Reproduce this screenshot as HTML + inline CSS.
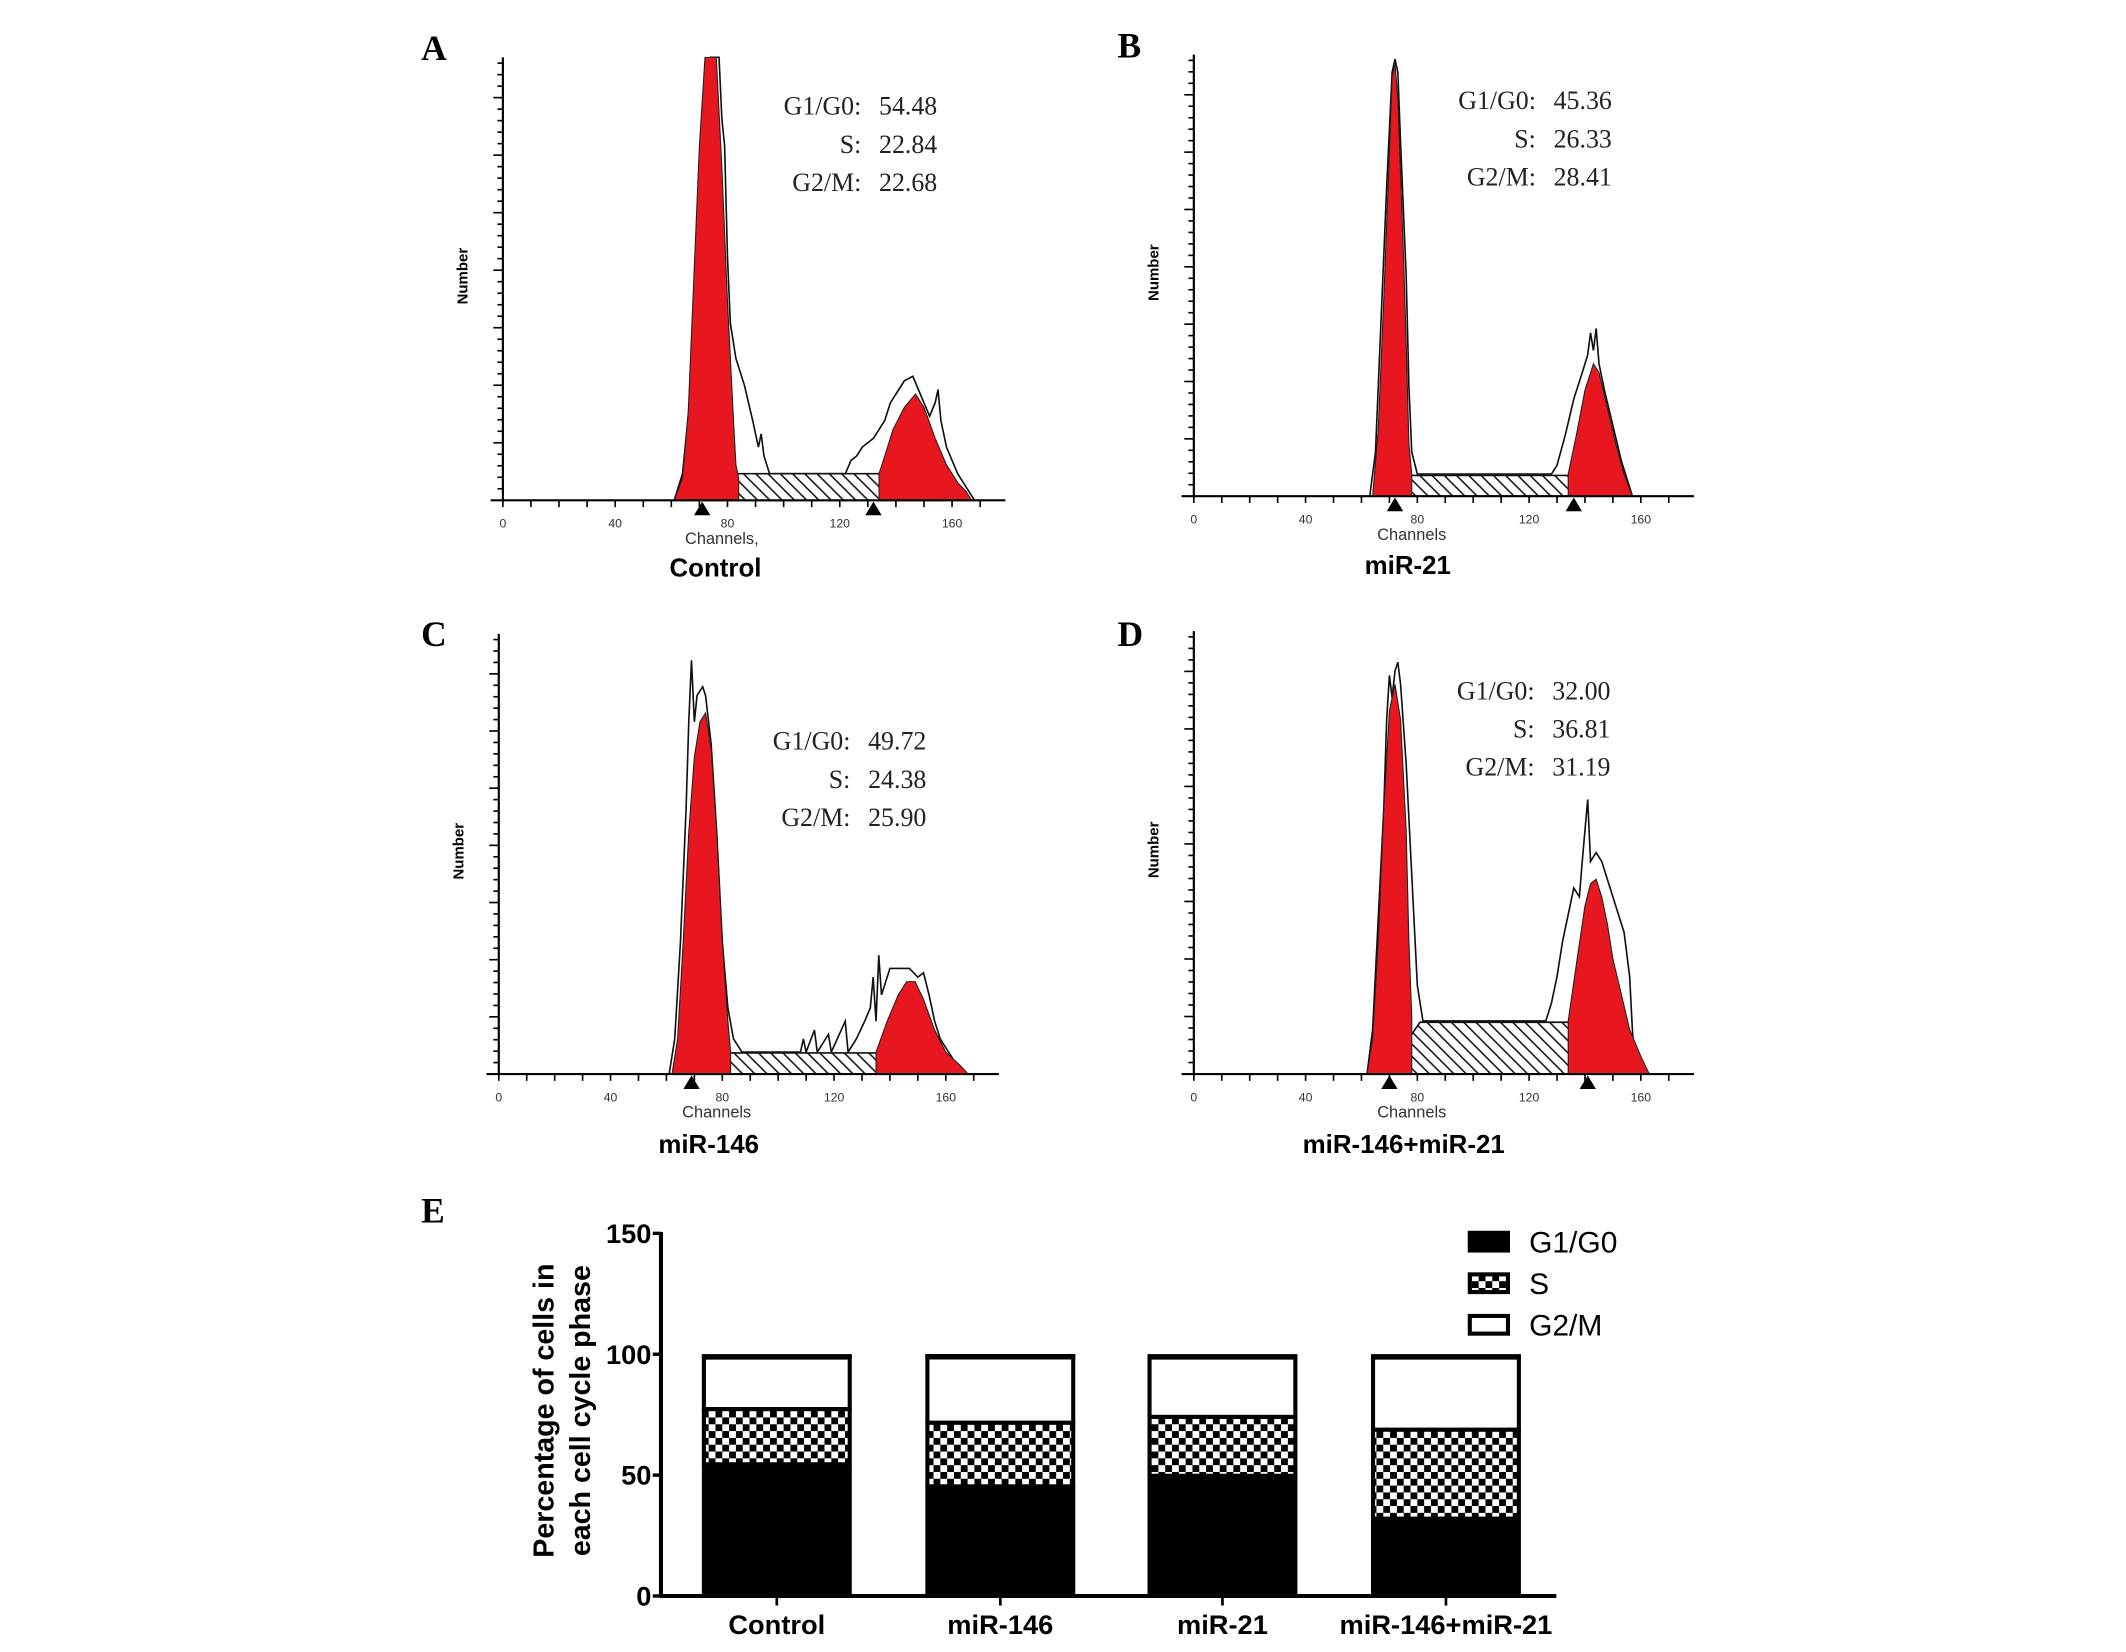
<!DOCTYPE html>
<html><head><meta charset="utf-8"><title>Cell cycle analysis</title>
<style>
html,body{margin:0;padding:0;background:#fff;}
svg{display:block;}
.lbl{font-family:"Liberation Serif",serif;font-weight:bold;font-size:26px;}
.stat{font-family:"Liberation Serif",serif;font-size:19px;fill:#222;}
.tick{font-family:"Liberation Sans",sans-serif;font-size:9px;fill:#333;}
.chan{font-family:"Liberation Sans",sans-serif;font-size:12px;fill:#333;}
.ttl{font-family:"Liberation Sans",sans-serif;font-weight:bold;font-size:19px;}
.num{font-family:"Liberation Sans",sans-serif;font-weight:bold;font-size:11px;}
.bar-t{font-family:"Liberation Sans Narrow","Liberation Sans",sans-serif;font-weight:bold;font-size:20px;}
.bar-y{font-family:"Liberation Sans",sans-serif;font-weight:bold;font-size:21px;}
.leg{font-family:"Liberation Sans Narrow","Liberation Sans",sans-serif;font-size:22px;}
</style></head>
<body>
<svg id="fig" width="2126" height="1652" viewBox="0 0 1560 1212" xmlns="http://www.w3.org/2000/svg">
<defs>
<pattern id="hatch" patternUnits="userSpaceOnUse" width="9" height="9">
<rect width="9" height="9" fill="#fff"/>
<path d="M-1,-1 L10,10 M-1,8 L1,10 M8,-1 L10,1" stroke="#111" stroke-width="1.1"/>
</pattern>
<pattern id="checker" patternUnits="userSpaceOnUse" width="10" height="10">
<rect width="10" height="10" fill="#fff"/>
<rect x="0" y="0" width="5" height="5" fill="#000"/>
<rect x="5" y="5" width="5" height="5" fill="#000"/>
</pattern>
</defs>
</svg>
<script>
// ---- Histogram data: [channel, height % of axis] ----
const aOutline=[[61,0],[64,6],[67,25],[69,60],[71,88],[72,92],[74,100],[77,100],[78,86],[79,80],[80,55],[81,40],[83,32],[86,26],[89,18],[91,12],[92,15],[93,10],[95,6],[122,6],[124,9],[126,10],[128,12],[132,14],[136,18],[138,22],[141,25],[143,27],[146,28],[148,25],[150,22],[152,19],[154,22],[155,25],[156,18],[158,12],[162,6],[165,3],[168,0]];
const aG1Red=[[61,0],[64,5],[66,20],[68,50],[70,80],[72,100],[76,100],[78,75],[80,45],[82,20],[83,8],[84,5],[84,0]];
const aG2Red=[[134,0],[134,6],[136,10],[139,16],[143,21],[147,24],[150,21],[154,14],[158,8],[162,4],[165,2],[167,0]];
const aBand=[[72,0],[75,3],[78,6],[140,6],[143,4],[147,3],[150,2],[155,0]];
const aMarkers=[71,132];
const aStats=["54.48","22.84","22.68"];

const bOutline=[[63,0],[65,10],[67,40],[69,70],[71,96],[72,99],[73,96],[74,80],[76,50],[77,25],[78,10],[80,5],[128,5],[130,7],[133,14],[136,22],[139,28],[141,32],[142,37],[143,33],[144,38],[145,30],[147,24],[150,16],[153,8],[156,2],[157,0]];
const bG1Red=[[64,0],[66,15],[68,45],[70,78],[71,95],[72,98],[73,90],[75,55],[76,35],[77,12],[78,5],[78,0]];
const bG2Red=[[134,0],[134,5],[137,14],[140,24],[143,30],[145,28],[148,20],[151,12],[154,5],[157,0]];
const bBand=[[69,0],[72,3],[74,4.7],[140,4.7],[143,3],[147,1.5],[149,0]];
const bMarkers=[72,136];
const bStats=["45.36","26.33","28.41"];

const cOutline=[[61,0],[63,8],[65,30],[67,60],[68,80],[69,94],[70,80],[71,86],[73,88],[74,86],[76,75],[78,55],[80,30],[82,15],[84,8],[87,5],[108,5],[109,8],[110,5],[113,10],[114,5],[118,9],[119,5],[124,12],[125,5],[128,8],[131,12],[133,15],[134,22],[135,12],[136,27],[137,18],[138,20],[140,24],[143,24],[147,24],[150,22],[152,23],[154,18],[156,12],[158,8],[161,5],[164,2],[166,0]];
const cG1Red=[[62,0],[64,8],[66,30],[68,55],[70,72],[72,80],[74,82],[76,74],[78,55],[80,30],[82,12],[83,5],[83,0]];
const cG2Red=[[135,0],[135,5],[139,12],[143,18],[146,21],[149,21],[152,17],[156,10],[160,5],[165,2],[168,0]];
const cBand=[[70,0],[73,3],[76,4.8],[136,4.8],[140,3.5],[145,2],[152,1],[157,0]];
const cMarkers=[69];
const cStats=["49.72","24.38","25.90"];

const dOutline=[[62,0],[64,10],[66,35],[68,60],[69,80],[70,90],[71,85],[72,91],[73,93],[74,88],[76,70],[78,45],[80,20],[82,12],[126,12],[128,16],[130,22],[132,30],[134,36],[136,42],[138,40],[139,48],[140,55],[141,62],[142,48],[144,50],[146,48],[148,44],[150,40],[152,36],[154,32],[156,22],[157,10],[158,0]];
const dG1Red=[[62,0],[64,8],[66,30],[68,60],[70,82],[72,88],[74,80],[76,55],[77,30],[78,13],[78,0]];
const dG2Red=[[134,0],[134,12],[137,25],[140,38],[142,43],[144,44],[146,40],[148,34],[150,26],[153,18],[156,10],[160,4],[163,0]];
const dBand=[[72,0],[75,4],[78,9],[81,11.7],[134,11.7],[138,9],[142,7],[146,4],[150,2],[154,0]];
const dMarkers=[70,141];
const dStats=["32.00","36.81","31.19"];

const statLabels=["G1/G0:","S:","G2/M:"];
const xTickLabels=["0","40","80","120","160"];

// ---- Bar chart data ----
const barCategories=["Control","miR-146","miR-21","miR-146+miR-21"];
const barG1=[54.48,45.36,49.72,32.00];
const barS=[22.84,26.33,24.38,36.81];
const barG2=[22.68,28.41,25.90,31.19];
const barYTicks=[0,50,100,150];
const legendLabels=["G1/G0","S","G2/M"];

const NS="http://www.w3.org/2000/svg";
const svg=document.getElementById('fig');
function mk(tag,attrs,parent){const e=document.createElementNS(NS,tag);for(const k in attrs)e.setAttribute(k,attrs[k]);(parent||svg).appendChild(e);return e;}
function txt(s,attrs,parent){const e=mk('text',attrs,parent);e.textContent=s;return e;}

const panels=[
 {id:'a',letter:'A',lx:309,ly:44,x0:369,bot:367,top:42,k:2.06,title:'Control',tx:525,ty:423,statX:632,statY:78,
  outline:aOutline,g1:aG1Red,g2:aG2Red,band:aBand,markers:aMarkers,stats:aStats,chan:'Channels,'},
 {id:'b',letter:'B',lx:820,ly:42,x0:876,bot:364,top:40,k:2.05,title:'miR-21',tx:1033,ty:421,statX:1127,statY:74,
  outline:bOutline,g1:bG1Red,g2:bG2Red,band:bBand,markers:bMarkers,stats:bStats,chan:'Channels'},
 {id:'c',letter:'C',lx:309,ly:474,x0:366,bot:788,top:465,k:2.05,title:'miR-146',tx:520,ty:846,statX:624,statY:544,
  outline:cOutline,g1:cG1Red,g2:cG2Red,band:cBand,markers:cMarkers,stats:cStats,chan:'Channels'},
 {id:'d',letter:'D',lx:820,ly:474,x0:876,bot:788,top:463,k:2.05,title:'miR-146+miR-21',tx:1030,ty:846,statX:1126,statY:507,
  outline:dOutline,g1:dG1Red,g2:dG2Red,band:dBand,markers:dMarkers,stats:dStats,chan:'Channels'}
];

panels.forEach(p=>{
  const g=mk('g',{});
  
  
  const H=p.bot-p.top;
  const X=c=>p.x0+c*p.k;
  const Y=v=>p.bot-v/100*H;
  const pts=arr=>arr.map(q=>X(q[0]).toFixed(1)+','+Y(q[1]).toFixed(1)).join(' ');
  const L=txt(p.letter,{x:p.lx,y:p.ly,class:'lbl'},g);
  
  
  // outline
  const o=mk('polygon',{points:pts(p.outline),fill:'#fff',stroke:'#111','stroke-width':1.2},g);
  
  
  // S band
  const b=mk('polygon',{points:pts(p.band),fill:'url(#hatch)',stroke:'#111','stroke-width':1.2},g);
  
  
  // red peaks
  const r1=mk('polygon',{points:pts(p.g1),fill:'#e8171f',stroke:'#222','stroke-width':0.8},g);
  
  
  const r2=mk('polygon',{points:pts(p.g2),fill:'#e8171f',stroke:'#222','stroke-width':0.8},g);
  
  
  // axes
  const ya=mk('line',{x1:p.x0,y1:p.top,x2:p.x0,y2:p.bot,stroke:'#000','stroke-width':1.6},g);
  
  
  const xa=mk('line',{x1:p.x0-9,y1:p.bot,x2:X(179),y2:p.bot,stroke:'#000','stroke-width':1.6},g);
  
  
  for(let i=1;i<=38;i++){
    const yy=p.bot-i*H/38.5;const len=(i%5===0)?7:4;
    mk('line',{x1:p.x0-len,y1:yy,x2:p.x0,y2:yy,stroke:'#000','stroke-width':1.2},g);
  }
  for(let c=0;c<=175;c+=10){
    mk('line',{x1:X(c),y1:p.bot,x2:X(c),y2:p.bot+5,stroke:'#000','stroke-width':1.2},g);
  }
  xTickLabels.forEach((t,i)=>{
    const tl=txt(t,{x:X(i*40),y:p.bot+20,class:'tick','text-anchor':'middle'},g);
    
    
  });
  p.markers.forEach(m=>{
    const tr=mk('polygon',{points:(X(m)-6)+','+(p.bot+11)+' '+(X(m)+6)+','+(p.bot+11)+' '+X(m)+','+(p.bot+1),fill:'#000'},g);
    
    
  });
  const ch=txt(p.chan,{x:X(78),y:p.bot+32,class:'chan','text-anchor':'middle'},g);
  
  
  const nm=txt('Number',{x:0,y:0,class:'num','text-anchor':'middle',transform:'translate('+(p.x0-26)+','+((p.top+p.bot)/2-2)+') rotate(-90)'},g);
  
  
  const tt=txt(p.title,{x:p.tx,y:p.ty,class:'ttl','text-anchor':'middle'},g);
  
  
  statLabels.forEach((s,i)=>{
    const sl=txt(s,{x:p.statX,y:p.statY+i*28+6,class:'stat','text-anchor':'end'},g);
    
    
    const sv=txt(p.stats[i],{x:p.statX+13,y:p.statY+i*28+6,class:'stat'},g);
    
    
  });
});

// ---- Panel E bar chart ----
(function(){
  const g=mk('g',{});
  
  
  const x0=485,yb=1171,ppu=1.774;
  const Y=v=>yb-v*ppu;
  const centers=[570,734,897,1061];
  const bw=110;
  const E=txt('E',{x:309,y:897,class:'lbl'},g);
  
  
  barCategories.forEach((c,i)=>{
    const l=centers[i]-bw/2;
    const s1=barG1[i],s2=s1+barS[i],s3=s2+barG2[i];
    const r1=mk('rect',{x:l,y:Y(s1),width:bw,height:Y(0)-Y(s1),fill:'#000'},g);
    
    
    const r2=mk('rect',{x:l+1.5,y:Y(s2),width:bw-3,height:Y(s1)-Y(s2),fill:'url(#checker)',stroke:'#000','stroke-width':3},g);
    
    
    const r3=mk('rect',{x:l+1.5,y:Y(s3)+1.5,width:bw-3,height:Y(s2)-Y(s3)-1.5,fill:'#fff',stroke:'#000','stroke-width':3},g);
    
    
    mk('line',{x1:l,y1:Y(s3)+2,x2:l+bw,y2:Y(s3)+2,stroke:'#000','stroke-width':4},g);
    mk('line',{x1:centers[i],y1:yb,x2:centers[i],y2:yb+7,stroke:'#000','stroke-width':2},g);
    const t=txt(c,{x:centers[i],y:yb+28,class:'bar-t','text-anchor':'middle'},g);
    
    
  });
  const ya=mk('line',{x1:x0,y1:Y(150)-1,x2:x0,y2:yb+1,stroke:'#000','stroke-width':3},g);
  
  
  const xa=mk('line',{x1:x0-1,y1:yb,x2:1142,y2:yb,stroke:'#000','stroke-width':3},g);
  
  
  barYTicks.forEach(v=>{
    mk('line',{x1:x0-6,y1:Y(v),x2:x0,y2:Y(v),stroke:'#000','stroke-width':2.5},g);
    const t=txt(String(v),{x:x0-7,y:Y(v)+7,class:'bar-t','text-anchor':'end'},g);
    
    
  });
  const yt=mk('text',{class:'bar-y','text-anchor':'middle',transform:'translate(406,1035) rotate(-90)'},g);
  
  
  const t1=mk('tspan',{x:0,y:0},yt);t1.textContent='Percentage of cells in';
  const t2=mk('tspan',{x:0,y:27},yt);t2.textContent='each cell cycle phase';
  const fills=['#000','url(#checker)','#fff'];
  legendLabels.forEach((s,i)=>{
    const yy=903+i*30.5;
    const r=mk('rect',{x:1078.5,y:yy+1.5,width:28,height:13,fill:fills[i],stroke:'#000','stroke-width':3},g);
    
    
    const t=txt(s,{x:1122,y:yy+16,class:'leg'},g);
    
    
  });
})();
</script>
</body></html>
